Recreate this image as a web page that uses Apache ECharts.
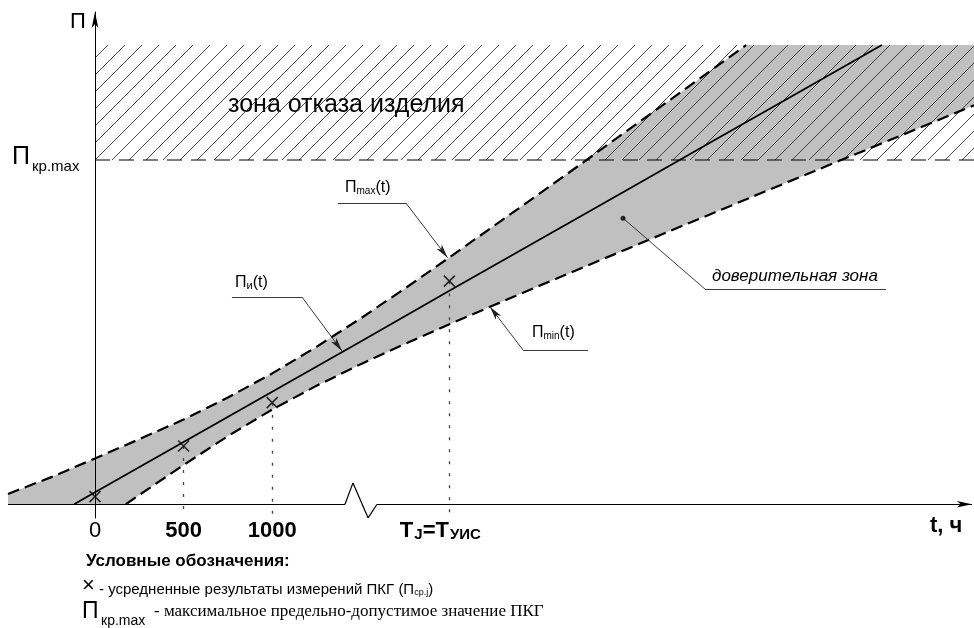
<!DOCTYPE html>
<html><head><meta charset="utf-8">
<script src="https://cdn.jsdelivr.net/npm/echarts@6/dist/echarts.min.js"></script>
<style>html,body{margin:0;padding:0;background:#fff}#c{width:974px;height:628px}</style>
</head><body><div id="c"></div>
<script>
// ---- axis ranges (hours / conditional units of parameter П) ----
const tMin = -491, tMax = 4961;
const yMin = -4, yMax = 143;
const zoneLevel = 100;     // Пкр.max
const zoneTop = 133.4;     // upper edge of the failure zone

// ---- x-axis tick labels ----
const tickValues = [0, 500, 1000, 2000];

// ---- measured averaged results (crosses) ----
const tMeas = [0, 500, 1000, 2000];
const pMeas = [2.2, 16.9, 29.5, 64.8];

// ---- regression line Пи(t) ----
const tCenter = [-118, 0, 500, 1000, 1500, 2000, 2500, 3000, 3500, 4000, 4441];
const pCenter = [0, 3.5, 18.1, 32.7, 47.3, 62.0, 76.6, 91.2, 105.9, 120.5, 133.4];

// ---- upper confidence bound Пmax(t) ----
const tUpper = [-491, -250, 0, 250, 500, 750, 1000, 1250, 1500, 1750, 2000, 2250, 2500, 2750, 3000, 3250, 3500, 3675];
const pMaxVals = [3.0, 7.8, 13.3, 18.9, 24.6, 31.0, 38.0, 45.7, 54.0, 62.7, 71.7, 80.8, 89.9, 99.1, 108.4, 117.6, 126.9, 133.4];

// ---- lower confidence bound Пmin(t) ----
const tLower = [174, 250, 500, 750, 1000, 1250, 1500, 1750, 2000, 2250, 2500, 2750, 3000, 3250, 3500, 3750, 4000, 4250, 4500, 4750, 4961];
const pMinVals = [0, 2.7, 11.4, 19.8, 27.5, 34.4, 40.7, 46.6, 52.3, 57.8, 63.3, 68.7, 74.1, 79.5, 84.8, 90.2, 95.5, 100.8, 106.1, 111.4, 115.9];

// ---- x-axis with break (zig-zag) ----
const axisBreakT = [-491, 1411, 1456, 1541, 1592, 4949];
const axisBreakY = [0, 0, 6.2, -3.95, 0, 0];

const FONT = '"Liberation Sans", Arial, sans-serif';
const SERIF = '"Liberation Serif", "Times New Roman", serif';

// hatch pattern
const S = 17;
const hc = document.createElement('canvas');
hc.width = S; hc.height = S;
const g = hc.getContext('2d');
g.strokeStyle = '#333'; g.lineWidth = 0.9;
g.beginPath();
g.moveTo(0, S); g.lineTo(S, 0);
g.moveTo(-1, 1); g.lineTo(1, -1);
g.moveTo(S - 1, S + 1); g.lineTo(S + 1, S - 1);
g.stroke();

const pairs = (xs, ys) => xs.map((x, i) => [x, ys[i]]);

// axis polyline segments
const axisSegs = [];
for (let i = 0; i < axisBreakT.length - 1; i++) {
  const last = i === axisBreakT.length - 2;
  axisSegs.push([
    { coord: [axisBreakT[i], axisBreakY[i]], symbol: 'none' },
    { coord: [axisBreakT[i + 1], axisBreakY[i + 1]], symbol: last ? 'arrow' : 'none', symbolSize: [5, 15] }
  ]);
}

// dotted verticals from measurements down
const dropLines = [];
for (let i = 1; i < tMeas.length; i++) {
  dropLines.push([{ coord: [tMeas[i], pMeas[i]] }, { coord: [tMeas[i], yMin] }]);
}

const seg = (a, b, arrow) => [{ coord: a, symbol: 'none' }, { coord: b, symbol: arrow ? 'arrow' : 'none', symbolSize: [5, 14] }];
const leaders = [
  seg([1371, 87.5], [1755, 87.5]), seg([1755, 87.5], [1990, 71.6], true),
  seg([773, 60.2], [1168, 60.2]), seg([1168, 60.2], [1394, 44.5], true),
  seg([2782, 44.8], [2416, 44.8]), seg([2416, 44.8], [2229, 57.4], true),
  seg([4464, 62.5], [3443, 62.5]), seg([3443, 62.5], [2980, 83.1])
];

const chart = echarts.init(document.getElementById('c'));
chart.setOption({
  animation: false,
  backgroundColor: '#fff',
  grid: { left: 8, right: 0, top: 12, bottom: 110 },
  xAxis: {
    type: 'value', min: tMin, max: tMax,
    axisLine: { show: false, onZero: true },
    axisTick: { show: false }, splitLine: { show: false },
    axisLabel: {
      customValues: tickValues, margin: 2, color: '#000', fontFamily: FONT,
      formatter: v => v === 2000 ? '{t|T}{s|J}{t|=T}{s|УИС}{p|}' : (v === 0 ? '{n|0}' : '{b|' + v + '}'),
      rich: {
        n: { fontSize: 22, fontFamily: FONT, color: '#000' },
        b: { fontSize: 22, fontWeight: 'bold', fontFamily: FONT, color: '#000' },
        t: { fontSize: 22, fontWeight: 'bold', fontFamily: FONT, color: '#000', verticalAlign: 'top' },
        s: { fontSize: 15, fontWeight: 'bold', fontFamily: FONT, color: '#000', verticalAlign: 'bottom', padding: [6, 0, 0, 1] },
        p: { width: 18 }
      }
    }
  },
  yAxis: {
    type: 'value', min: yMin, max: yMax, z: 8,
    axisLine: { show: true, onZero: true, symbol: ['none', 'arrow'], symbolSize: [5, 16], lineStyle: { color: '#000', width: 1 } },
    axisTick: { show: false }, axisLabel: { show: false }, splitLine: { show: false }
  },
  series: [
    { // confidence zone fill
      type: 'custom', z: 1, silent: true, data: [[0, 0]], encode: { x: 0, y: 1 },
      renderItem: (p, api) => {
        const pts = [api.coord([tMin, 0])];
        tUpper.forEach((t, i) => pts.push(api.coord([t, pMaxVals[i]])));
        pts.push(api.coord([tMax, zoneTop]));
        for (let i = tLower.length - 1; i >= 0; i--) pts.push(api.coord([tLower[i], pMinVals[i]]));
        return { type: 'polygon', shape: { points: pts }, style: { fill: '#c0c0c0' } };
      }
    },
    { // failure zone hatch
      type: 'custom', z: 2, silent: true, data: [[0, zoneTop]], encode: { x: 0, y: 1 },
      renderItem: (p, api) => {
        const a = api.coord([0, zoneTop]), b = api.coord([tMax, zoneLevel]);
        return { type: 'rect', shape: { x: a[0], y: a[1], width: b[0] - a[0], height: b[1] - a[1] },
                 style: { fill: { image: hc, repeat: 'repeat' } } };
      }
    },
    { // Пкр.max line
      type: 'line', z: 3, silent: true, symbol: 'none',
      data: [[0, zoneLevel], [tMax, zoneLevel]],
      lineStyle: { color: '#000', width: 1, type: [15, 9] }
    },
    { // Пmax(t)
      type: 'line', z: 4, symbol: 'none', data: pairs(tUpper, pMaxVals),
      lineStyle: { color: '#000', width: 2.2, type: [12, 6] }
    },
    { // Пmin(t)
      type: 'line', z: 4, symbol: 'none', data: pairs(tLower, pMinVals),
      lineStyle: { color: '#000', width: 2.2, type: [12, 6] }
    },
    { // Пи(t)
      type: 'line', z: 4, symbol: 'none', data: pairs(tCenter, pCenter),
      lineStyle: { color: '#000', width: 1.8 },
      markLine: {
        silent: true, animation: false, label: { show: false },
        lineStyle: { color: '#222', width: 0.9, type: 'solid' },
        data: leaders
      }
    },
    { // measurements
      type: 'scatter', z: 6, data: pairs(tMeas, pMeas),
      symbol: 'path://M0 0L10 10M10 0L0 10', symbolSize: 11,
      itemStyle: { color: 'none', borderColor: '#000', borderWidth: 1.6 },
      markLine: {
        silent: true, symbol: 'none', label: { show: false },
        lineStyle: { color: '#444', width: 1.3, type: [3, 9] },
        data: dropLines
      }
    },
    { // dot of "confidence zone" leader
      type: 'scatter', z: 6, data: [[2980, 83.1]], symbol: 'circle', symbolSize: 5,
      itemStyle: { color: '#000' }
    },
    { // x axis with break
      type: 'line', z: 7, data: [], symbol: 'none',
      markLine: {
        silent: true, label: { show: false },
        lineStyle: { color: '#000', width: 1.2, type: 'solid' },
        data: axisSegs
      }
    }
  ],
  graphic: [
    { type: 'text', x: 70, y: 11, style: { text: 'П', font: '22px ' + FONT, fill: '#000' } },
    { type: 'text', x: 12, y: 145, style: { text: 'П', font: '25px ' + FONT, fill: '#000' } },
    { type: 'text', x: 32, y: 159, style: { text: 'кр.max', font: '15px ' + FONT, fill: '#000' } },
    { type: 'text', x: 228, y: 93, style: { text: 'зона отказа изделия', font: '25px ' + FONT, fill: '#000' } },
    { type: 'text', x: 345, y: 180, style: { text: '{m|П}{s|max}{m|(t)}', rich: {
        m: { fontSize: 16, fontFamily: FONT, fill: '#000', verticalAlign: 'bottom' },
        s: { fontSize: 10, fontFamily: FONT, fill: '#000', verticalAlign: 'bottom' } } } },
    { type: 'text', x: 235, y: 275, style: { text: '{m|П}{s|и}{m|(t)}', rich: {
        m: { fontSize: 16, fontFamily: FONT, fill: '#000', verticalAlign: 'bottom' },
        s: { fontSize: 11, fontFamily: FONT, fill: '#000', verticalAlign: 'bottom' } } } },
    { type: 'text', x: 532, y: 325, style: { text: '{m|П}{s|min}{m|(t)}', rich: {
        m: { fontSize: 16, fontFamily: FONT, fill: '#000', verticalAlign: 'bottom' },
        s: { fontSize: 10, fontFamily: FONT, fill: '#000', verticalAlign: 'bottom' } } } },
    { type: 'text', x: 712, y: 268, style: { text: 'доверительная зона', font: 'italic 17px ' + FONT, fill: '#000' } },
    { type: 'text', x: 930, y: 515, style: { text: 't, ч', font: 'bold 22px ' + FONT, fill: '#000' } },
    { type: 'text', x: 86, y: 553, style: { text: 'Условные обозначения:', font: 'bold 17px ' + FONT, fill: '#000' } },
    { type: 'text', x: 82, y: 575, style: { text: '{x|×}{m| - усредненные результаты измерений ПКГ (П}{s|ср.j}{m|)}', rich: {
        x: { fontSize: 22, fontFamily: FONT, fill: '#000', verticalAlign: 'bottom' },
        m: { fontSize: 15, fontFamily: FONT, fill: '#000', verticalAlign: 'bottom' },
        s: { fontSize: 9, fontFamily: FONT, fill: '#000', verticalAlign: 'bottom' } } } },
    { type: 'text', x: 82, y: 600, style: { text: 'П', font: '23px ' + FONT, fill: '#000' } },
    { type: 'text', x: 101, y: 614, style: { text: 'кр.max', font: '14px ' + FONT, fill: '#000' } },
    { type: 'text', x: 154, y: 603, style: { text: '- максимальное предельно-допустимое значение ПКГ', font: '17px ' + SERIF, fill: '#000' } }
  ]
});
</script>
</body></html>
